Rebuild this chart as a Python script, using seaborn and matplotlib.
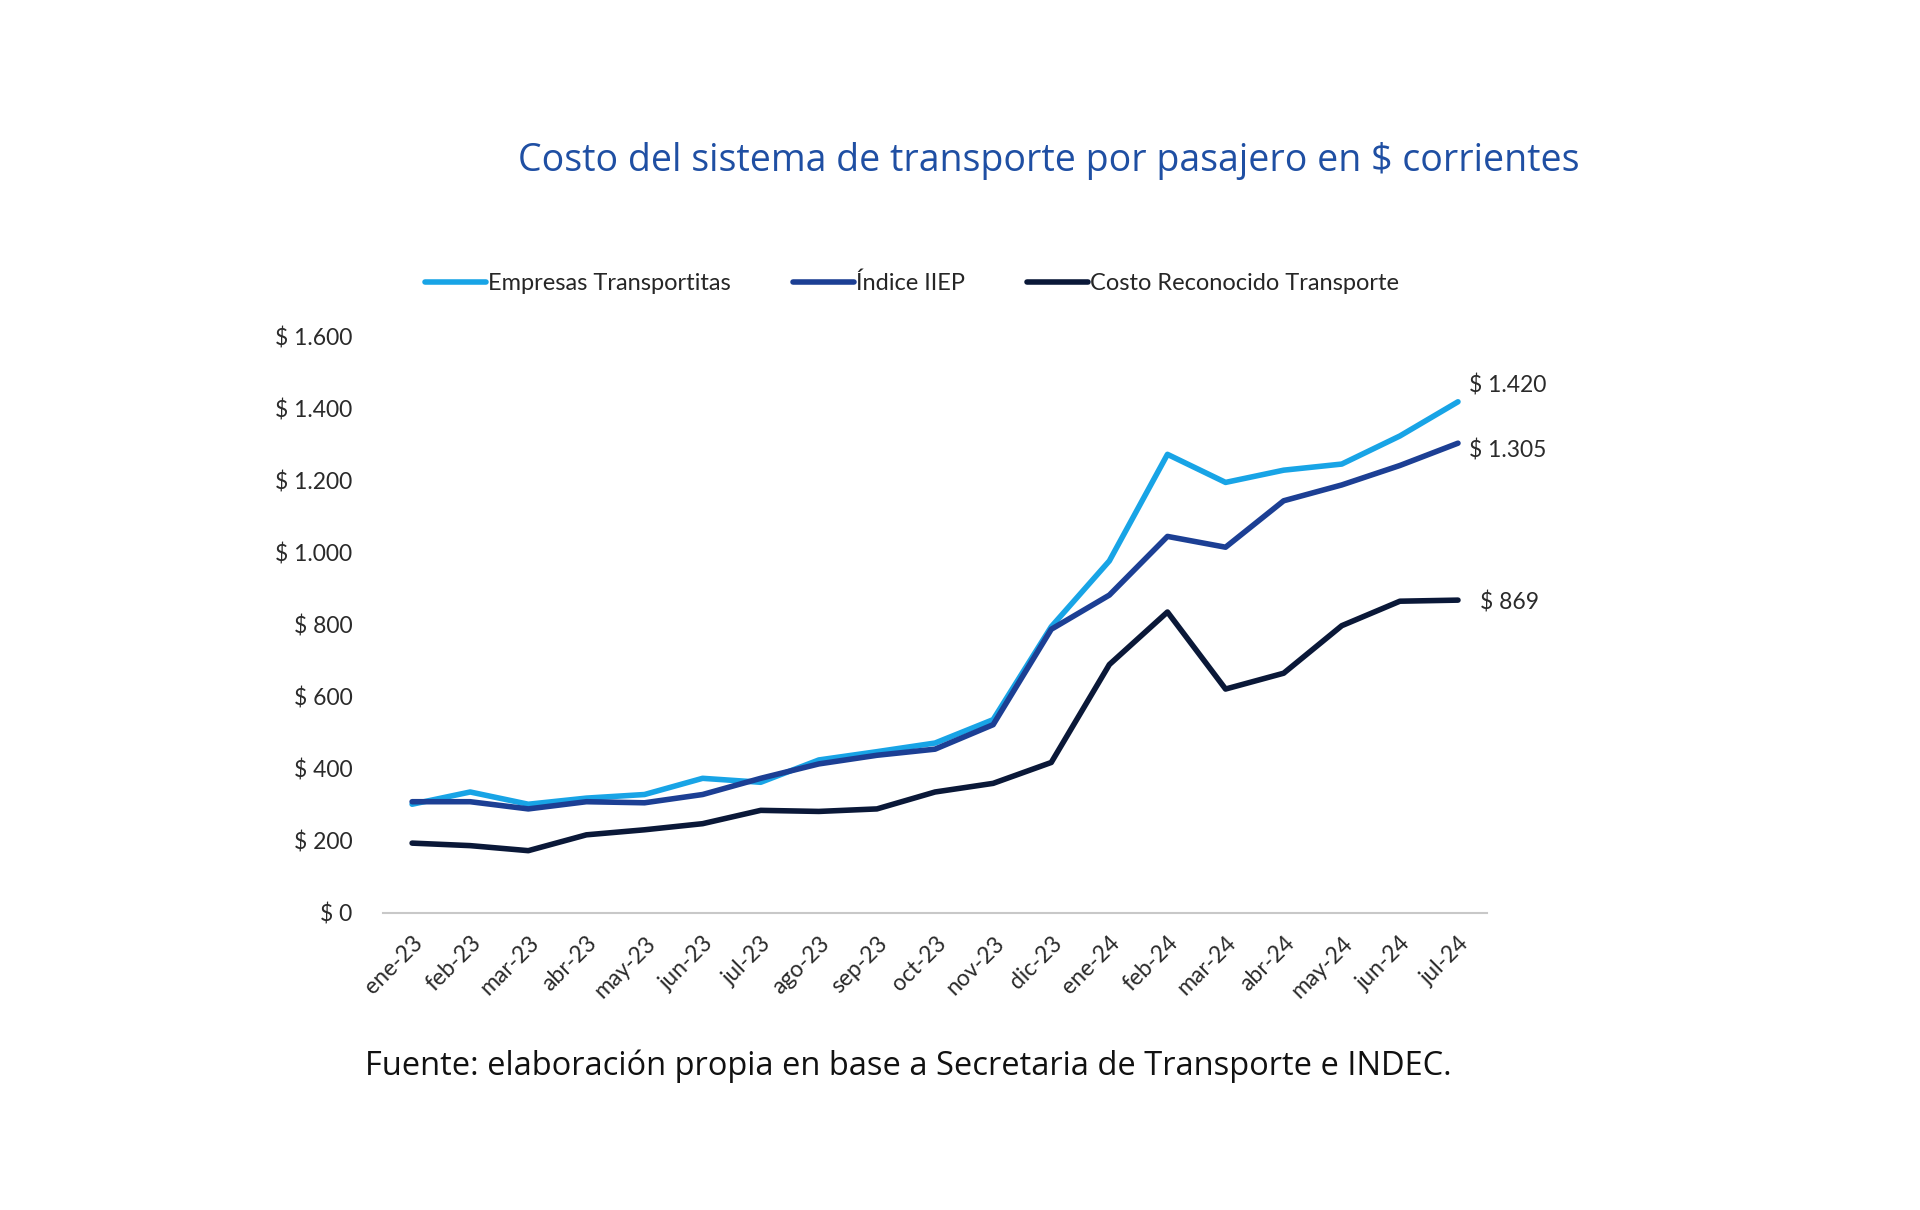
import matplotlib
matplotlib.use("Agg")
import matplotlib.pyplot as plt
import numpy as np
import pandas as pd
import seaborn as sns

months = ["ene-23", "feb-23", "mar-23", "abr-23", "may-23", "jun-23", "jul-23",
          "ago-23", "sep-23", "oct-23", "nov-23", "dic-23", "ene-24", "feb-24",
          "mar-24", "abr-24", "may-24", "jun-24", "jul-24"]
empresas = [302, 336, 302, 319, 329, 374, 363, 425, 448, 472, 537, 795,
            978, 1274, 1196, 1230, 1247, 1325, 1420]
indice_iiep = [309, 309, 289, 309, 306, 329, 374, 414, 438, 455, 523, 788,
               883, 1046, 1016, 1145, 1189, 1243, 1305]
costo_reconocido = [194, 187, 173, 217, 231, 248, 285, 282, 289, 336, 360,
                    418, 690, 836, 622, 666, 798, 866, 869]
series_names = ["Empresas Transportitas", "Índice IIEP",
                "Costo Reconocido Transporte"]
end_labels = ["$ 1.420", "$ 1.305", "$ 869"]
y_ticks = [0, 200, 400, 600, 800, 1000, 1200, 1400, 1600]

palette = ["#18A4E6", "#1C3F94", "#0A1838"]

df = pd.DataFrame({
    "mes": list(range(len(months))) * 3,
    "valor": empresas + indice_iiep + costo_reconocido,
    "serie": np.repeat(series_names, len(months)),
})

sns.set_style("white")
plt.rcParams["font.family"] = ["Lato", "DejaVu Sans"]

fig = plt.figure(figsize=(19.2, 12.1), dpi=100)
ax = fig.add_axes([0.1995, 0.2455, 0.575, 0.476])

sns.lineplot(data=df, x="mes", y="valor", hue="serie", hue_order=series_names,
             palette=palette, linewidth=4.0, ax=ax, legend=True)

ax.set_xlim(-0.5, len(months) - 0.5)
ax.set_ylim(0, 1600)
ax.set_yticks(y_ticks)
ax.set_yticklabels([f"$ {v:,}".replace(",", ".") for v in y_ticks],
                   fontsize=16.5, color="#2A2A2A")
ax.set_xticks(range(len(months)))
ax.set_xticklabels(months, rotation=45, ha="right", rotation_mode="anchor",
                   fontsize=16.5, color="#2A2A2A")
ax.set_xticks(np.arange(-0.5, len(months)), minor=True)
ax.tick_params(axis="x", which="major", length=0, pad=14)
ax.tick_params(axis="x", which="minor", length=9, color="#C8C8C8", width=1.5)
ax.tick_params(axis="y", length=0, pad=22)
ax.set_xlabel("")
ax.set_ylabel("")
for side in ["top", "right", "left"]:
    ax.spines[side].set_visible(False)
ax.spines["bottom"].set_color("#C8C8C8")
ax.spines["bottom"].set_linewidth(1.5)

# etiquetas del último dato
last = len(months) - 1
for vals, lab, dy, dx in zip([empresas, indice_iiep, costo_reconocido],
                             end_labels, [12, -5, -2], [8, 8, 16]):
    ax.annotate(lab, xy=(last, vals[-1]), xytext=(dx, dy),
                textcoords="offset points", ha="left", va="center",
                fontsize=16.5, color="#2A2A2A")

handles, labels = ax.get_legend_handles_labels()
ax.legend(handles, labels, loc="center", bbox_to_anchor=(0.475, 0.766),
          bbox_transform=fig.transFigure, ncol=3, frameon=False,
          fontsize=17, handlelength=2.6, handletextpad=0.1,
          columnspacing=2.6)

fig.text(0.546, 0.867, "Costo del sistema de transporte por pasajero en $ corrientes",
         ha="center", va="center", fontsize=27, color="#1F4FA3",
         family=["Open Sans", "DejaVu Sans"])
fig.text(0.473, 0.119,
         "Fuente: elaboración propia en base a Secretaria de Transporte e INDEC.",
         ha="center", va="center", fontsize=23.5, color="#111111",
         family=["Open Sans", "DejaVu Sans"])

fig.savefig("out.png", dpi=100, facecolor="white")
